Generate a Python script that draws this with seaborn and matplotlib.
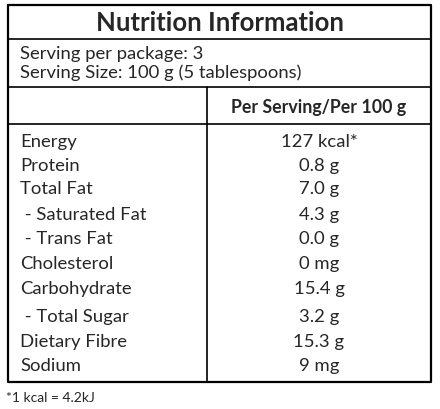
import matplotlib
matplotlib.use("Agg")
import matplotlib.pyplot as plt
import seaborn as sns

title = "Nutrition Information"
serving_lines = ["Serving per package: 3", "Serving Size: 100 g (5 tablespoons)"]
column_header = "Per Serving/Per 100 g"
nutrients = ["Energy", "Protein", "Total Fat", " - Saturated Fat", " - Trans Fat",
             "Cholesterol", "Carbohydrate", " - Total Sugar", "Dietary Fibre", "Sodium"]
amounts = ["127 kcal*", "0.8 g", "7.0 g", "4.3 g", "0.0 g",
           "0 mg", "15.4 g", "3.2 g", "15.3 g", "9 mg"]
footnote = "*1 kcal = 4.2kJ"

sns.set_style("white")
plt.rcParams['font.family'] = ['Lato', 'DejaVu Sans']

fig = plt.figure(figsize=(4.4, 4.1), dpi=100)
ax = fig.add_axes([0, 0, 1, 1])
ax.set_xlim(0, 440)
ax.set_ylim(410, 0)
ax.axis("off")

L, R, T, B = 8, 431, 6, 383
ax.plot([L, R, R, L, L], [T, T, B, B, T], color="black", lw=1.6)
for y in [40, 88, 125]:
    ax.plot([L, R], [y, y], color="black", lw=1.2)
ax.plot([207, 207], [88, B], color="black", lw=1.2)

ax.text((L + R) / 2, 23, title, ha="center", va="center", fontsize=18.5, fontweight="bold")
ax.text(20, 54, serving_lines[0], ha="left", va="center", fontsize=13.3)
ax.text(20, 73, serving_lines[1], ha="left", va="center", fontsize=13.3)
ax.text(319, 107, column_header, ha="center", va="center", fontsize=12.8, fontweight="bold")

row_y = [142, 166, 189, 215, 239, 264, 289, 317, 342, 366]
for y, n, a in zip(row_y, nutrients, amounts):
    ax.text(20, y, n, ha="left", va="center", fontsize=13.3)
    ax.text(319, y, a, ha="center", va="center", fontsize=13.3)

ax.text(6, 398, footnote, ha="left", va="center", fontsize=10)

fig.savefig("out.png", dpi=100)
